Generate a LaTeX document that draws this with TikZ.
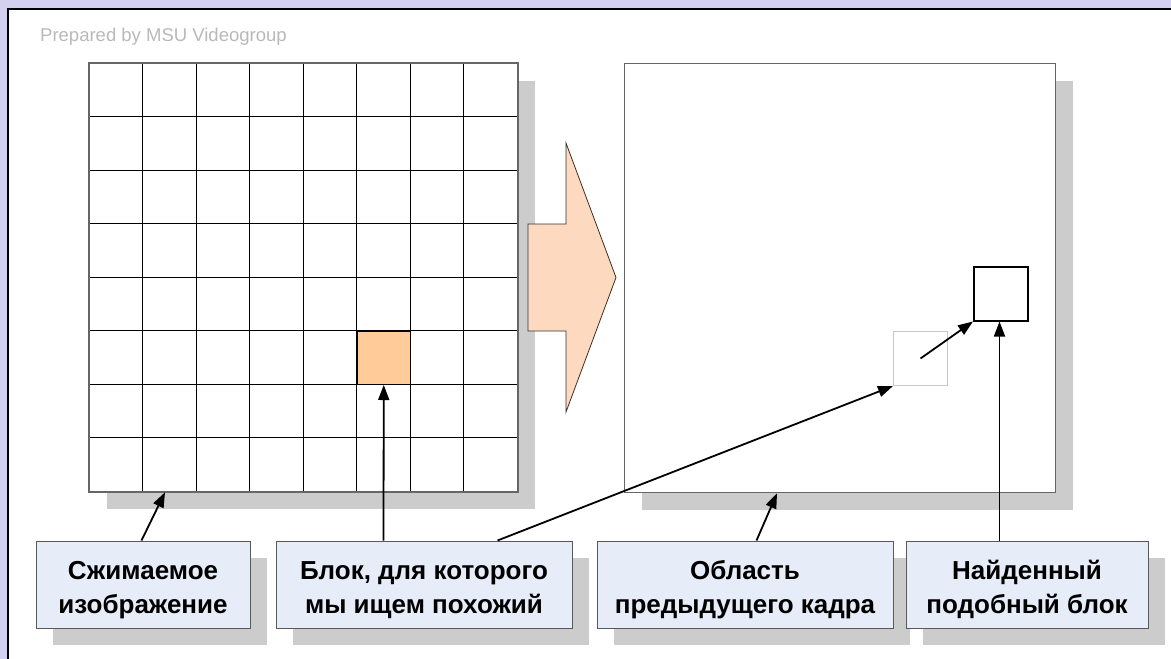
\documentclass[tikz,border=0pt]{standalone}
\usepackage{fontspec}
\setmainfont{Liberation Sans}
\usetikzlibrary{arrows.meta,calc,shadows}
\definecolor{lav}{RGB}{212,208,240}
\definecolor{shadowgray}{RGB}{204,204,204}
\definecolor{boxfill}{RGB}{230,236,248}
\definecolor{blockorange}{RGB}{255,204,153}
\definecolor{arrowpeach}{RGB}{253,217,191}
\definecolor{credit}{RGB}{185,185,185}
\tikzset{
  shad/.style={drop shadow={shadow xshift=17pt,shadow yshift=-17pt,fill=shadowgray,opacity=1}},
  frame/.style={draw=black!60,line width=1.3pt,fill=white,inner sep=0pt,anchor=north west,shad},
  label/.style={draw=black!65,line width=1pt,fill=boxfill,minimum height=87pt,inner sep=0pt,
    align=center,font=\fontsize{26}{34}\selectfont\bfseries,text height=63pt,shad},
  cell/.style={inner sep=0pt,minimum width=53.5pt,minimum height=53.5pt,anchor=north west},
  arr/.style={line width=1.8pt,-{Triangle[length=15pt,width=11pt]}},
  gridline/.style={line width=1pt,black}
}
\begin{document}
\begin{tikzpicture}[x=1pt,y=-1pt]
\useasboundingbox (0,0) rectangle (1171,659);
\fill[lav] (0,0) rectangle (1171,659);
\fill[white] (8,9) rectangle (1171,659);
\draw[black,line width=1.5pt] (8,659) -- (8,9) -- (1171,9);

\node[anchor=west,text=credit,font=\fontsize{18.5}{22}\selectfont,inner sep=0pt] (credit) at (40,37) {Prepared by MSU Videogroup};

% left grid
\node[frame,minimum width=428pt,minimum height=428pt] (grid) at (89,63) {};
\foreach \i in {1,...,7} {
  \draw[gridline] ($(grid.north west)+(\i*53.5,0)$) -- ++(0,428);
  \draw[gridline] ($(grid.north west)+(0,\i*53.5)$) -- ++(428,0);
}
\node[cell,draw=black,line width=1pt,fill=blockorange] (src) at (356.5,330.5) {};
\draw[draw=black!60,line width=1.3pt] (grid.north west) rectangle (grid.south east);

% big arrow
\draw[fill=arrowpeach,draw=black!80,line width=0.8pt]
  (528,224) -- (566,224) -- (566,143) -- (616,277.5) -- (566,412) -- (566,331) -- (528,331) -- cycle;

% right frame
\node[frame,minimum width=431pt,minimum height=429pt] (area) at (624,63) {};
\node[cell,minimum width=54pt,minimum height=54pt,draw=black!22,line width=1pt] (prev) at (893,331) {};
\node[cell,minimum width=54pt,minimum height=54pt,draw=black,line width=1.5pt] (found) at (973,266) {};

% labels
\node[label,minimum width=214pt] (b1) at (143,584.5) {Сжимаемое\\изображение};
\node[label,minimum width=296pt] (b2) at (424,584.5) {Блок, для которого\\мы ищем похожий};
\node[label,minimum width=296pt] (b3) at (745,584.5) {Область\\предыдущего кадра};
\node[label,minimum width=242pt] (b4) at (1027,584.5) {Найденный\\подобный блок};

% connectors
\coordinate (b1t) at ($(b1.north west)+(106,0)$);
\coordinate (gridb) at ($(grid.south west)+(76,0)$);
\draw[arr] (b1t) -- (gridb);
\coordinate (b2t) at ($(b2.north west)+(108,0)$);
\draw[arr] (b2t) -- (src.south);
\coordinate (b2r) at ($(b2.north west)+(222,0)$);
\draw[arr] (b2r) -- (prev.south west);
\coordinate (b3t) at ($(b3.north west)+(160,0)$);
\coordinate (areab) at ($(area.south west)+(153,0)$);
\draw[arr] (b3t) -- (areab);
\coordinate (b4t) at ($(b4.north west)+(94,0)$);
\draw[arr] (b4t) -- (b4t |- found.south);
\draw[arr] (prev.center) -- (found.south west);
\end{tikzpicture}
\end{document}
